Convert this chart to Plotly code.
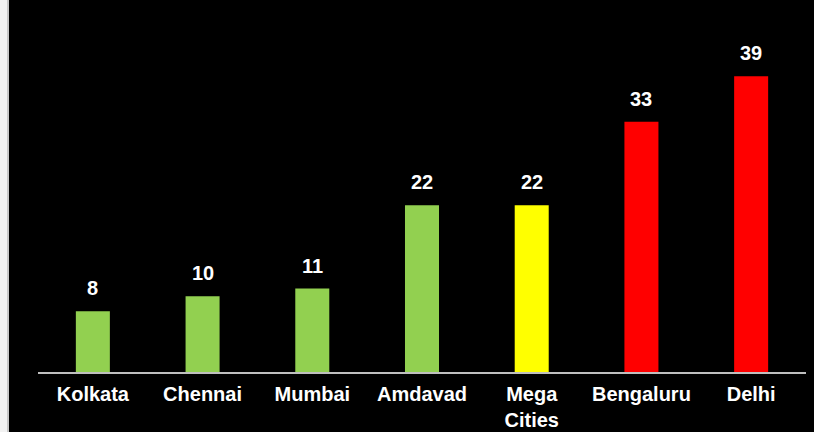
import plotly.graph_objects as go

cities = ["Kolkata", "Chennai", "Mumbai", "Amdavad", "Mega<br>Cities", "Bengaluru", "Delhi"]
values = [8, 10, 11, 22, 22, 33, 39]
bar_colors = ["#92D050", "#92D050", "#92D050", "#92D050", "#FFFF00", "#FF0000", "#FF0000"]

FONT = "Liberation Sans, Arial, sans-serif"

fig = go.Figure(
    go.Bar(
        x=cities,
        y=values,
        marker=dict(color=bar_colors, line=dict(width=0)),
        width=0.31,
        hoverinfo="skip",
    )
)

# value labels above each bar
for c, v in zip(cities, values):
    fig.add_annotation(
        x=c, y=v, text=f"<b>{v}</b>", showarrow=False,
        yanchor="middle", yshift=23,
        font=dict(family=FONT, size=20, color="white"),
    )

# light strip along the left edge
fig.add_shape(type="rect", xref="paper", yref="paper", xsizemode="pixel", xanchor=0,
              x0=-40, x1=-31, y0=-0.3, y1=1.2, fillcolor="#f2f2f2", line=dict(width=0), layer="above")
fig.add_shape(type="rect", xref="paper", yref="paper", xsizemode="pixel", xanchor=0,
              x0=-31, x1=-29, y0=-0.3, y1=1.2, fillcolor="#c8c8c8", line=dict(width=0), layer="above")

fig.update_layout(
    width=814, height=432,
    margin=dict(l=38, r=8, t=30, b=60),
    paper_bgcolor="black", plot_bgcolor="black",
    showlegend=False,
    xaxis=dict(
        automargin=False,
        showline=True, linecolor="#bfbfbf", linewidth=2,
        showgrid=False, zeroline=False, ticks="",
        ticklabelstandoff=3,
        tickfont=dict(family=FONT, size=20, color="white"),
        tickvals=cities, ticktext=[f"<b>{c}</b>" for c in cities],
    ),
    yaxis=dict(
        automargin=False,
        range=[0, 45.1], visible=False, showgrid=False, zeroline=False,
    ),
)

fig.write_html("out.html")
